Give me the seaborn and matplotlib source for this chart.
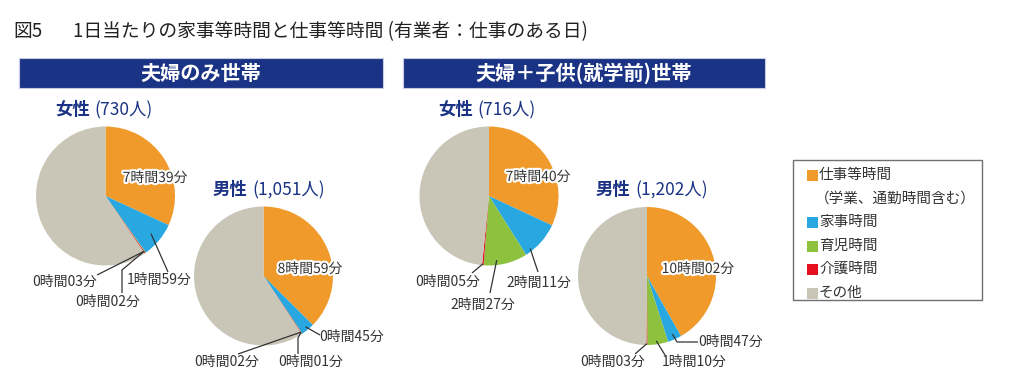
import numpy as np
import matplotlib
matplotlib.use("Agg")
import matplotlib.pyplot as plt
import seaborn as sns
from matplotlib import patheffects as pe
from matplotlib.patches import Rectangle

sns.set_theme(style="white")
plt.rcParams['font.family'] = ['Noto Sans CJK JP', 'DejaVu Sans']

# ---------------- data ----------------
categories = ["仕事等時間", "家事時間", "育児時間", "介護時間", "その他"]
legend_labels = ["仕事等時間\n（学業、通勤時間含む）", "家事時間", "育児時間", "介護時間", "その他"]
colors = ["#F09A2C", "#29A7E1", "#8DC13E", "#E50F1E", "#C9C6B7"]

# minutes per day (work, housework, childcare, care, other)
couple_female = [459, 119, 2, 3, 857]
couple_male = [539, 45, 1, 2, 853]
child_female = [460, 131, 147, 5, 697]
child_male = [602, 47, 70, 3, 718]

group_titles = ["夫婦のみ世帯", "夫婦＋子供(就学前)世帯"]
sex_labels = ["女性", "男性", "女性", "男性"]
counts = ["(730人)", "(1,051人)", "(716人)", "(1,202人)"]

title_num = "図5"
title_text = "1日当たりの家事等時間と仕事等時間 (有業者：仕事のある日)"

NAVY = "#1A3384"
W, H = 1024, 388

fig = plt.figure(figsize=(W / 100, H / 100), dpi=100)
fig.patch.set_facecolor("white")

ov = fig.add_axes([0, 0, 1, 1], zorder=10)
ov.set_xlim(0, W)
ov.set_ylim(H, 0)
ov.axis("off")
ov.patch.set_alpha(0)


def fmt(v):
    return f"{v // 60}時間{v % 60:02d}分"


# title
ov.text(13, 32, title_num, fontsize=13.5, color="#222", va="center", ha="left")
ov.text(73, 32, title_text, fontsize=13.5, color="#222", va="center", ha="left")

# banners
for (x0, x1), t in zip([(19, 383), (403, 765)], group_titles):
    ov.add_patch(Rectangle((x0, 58), x1 - x0, 30, facecolor=NAVY, edgecolor="#C8CCE0", lw=0.8))
    ov.text((x0 + x1) / 2, 73.5, t, color="white", fontsize=14.5, fontweight="bold",
            ha="center", va="center")

halo = [pe.withStroke(linewidth=3, foreground="white")]

pies = [
    dict(vals=couple_female, c=(105.5, 196), r=69.5, head=(55, 110),
         inside=(155, 178),
         labels={1: (159, 280, 0.5, 0.85, [(168, 272)]),
                 2: (108, 302, 0.5, 0.97, [(122, 270), (122, 293)]),
                 3: (65, 282, 0.5, 0.97, [(97, 275)])}),
    dict(vals=couple_male, c=(263.5, 276), r=69.5, head=(213, 190),
         inside=(310, 269),
         labels={1: (352, 337, 0.5, 0.95, [(320, 335)]),
                 2: (311, 362, 0.5, 0.97, [(298, 338), (298, 354)]),
                 3: (227, 362, 0.5, 0.97, [(238, 354)])}),
    dict(vals=child_female, c=(489, 196), r=69.5, head=(438, 110),
         inside=(538, 177),
         labels={1: (539, 283, 0.82, 0.96, [(538, 272)]),
                 2: (483, 305, 0.69, 0.93, [(490, 293)]),
                 3: (448, 282, 0.5, 0.98, [(472, 273)])}),
    dict(vals=child_male, c=(647, 276), r=69, head=(596, 190),
         inside=(698, 269),
         labels={1: (731, 342, 0.5, 0.92, [(677, 342), (698, 342)]),
                 2: (694, 362, 0.55, 0.95, [(665, 355)]),
                 3: (613, 362, 0.5, 0.98, [(635, 354)])}),
]

for i, p in enumerate(pies):
    cx, cy = p["c"]
    r = p["r"]
    ax = fig.add_axes([(cx - r) / W, 1 - (cy + r) / H, 2 * r / W, 2 * r / H])
    vals = np.array(p["vals"], dtype=float)
    ax.pie(vals, colors=colors, startangle=90, counterclock=False, radius=1,
           wedgeprops=dict(linewidth=0))
    ax.set_xlim(-1, 1)
    ax.set_ylim(-1, 1)
    ax.set_aspect("equal")
    ax.axis("off")

    total = vals.sum()
    cum = np.concatenate([[0], np.cumsum(vals)])

    hx, hy = p["head"]
    t1 = ov.text(hx, hy, sex_labels[i], color=NAVY, fontsize=12.5, fontweight="bold",
                 ha="left", va="center")
    ov.annotate(counts[i], xy=(1, 0.5), xycoords=t1, xytext=(5, 0),
                textcoords="offset pixels", color=NAVY, fontsize=12.5, ha="left", va="center")

    ix, iy = p["inside"]
    ov.text(ix, iy, fmt(p["vals"][0]), fontsize=10, color="#333", ha="center",
            va="center", path_effects=halo)

    for k, (tx, ty, tt, kr, pts) in p["labels"].items():
        frac = (cum[k] + tt * vals[k]) / total
        ang = np.deg2rad(90 - 360 * frac)
        ax0 = cx + r * kr * np.cos(ang)
        ay0 = cy - r * kr * np.sin(ang)
        xs = [ax0] + [q[0] for q in pts]
        ys = [ay0] + [q[1] for q in pts]
        ov.plot(xs, ys, color="#333", lw=0.9, solid_capstyle="butt")
        ov.text(tx, ty, fmt(p["vals"][k]), fontsize=10, color="#333", ha="center",
                va="center")

# legend
ov.add_patch(Rectangle((793, 160), 189, 140, facecolor="white", edgecolor="#707070", lw=1))
rows = [175, 222, 246, 269, 293]
for lab, col, y in zip(legend_labels, colors, rows):
    ov.add_patch(Rectangle((807, y - 5.5), 11, 11, facecolor=col, edgecolor="none"))
    lines = lab.split("\n")
    ov.text(819, y, lines[0], fontsize=10.5, color="#333", ha="left", va="center")
    if len(lines) > 1:
        ov.text(815, y + 24, lines[1], fontsize=10.5, color="#333", ha="left", va="center")

fig.savefig("out.png", dpi=100, facecolor="white")
